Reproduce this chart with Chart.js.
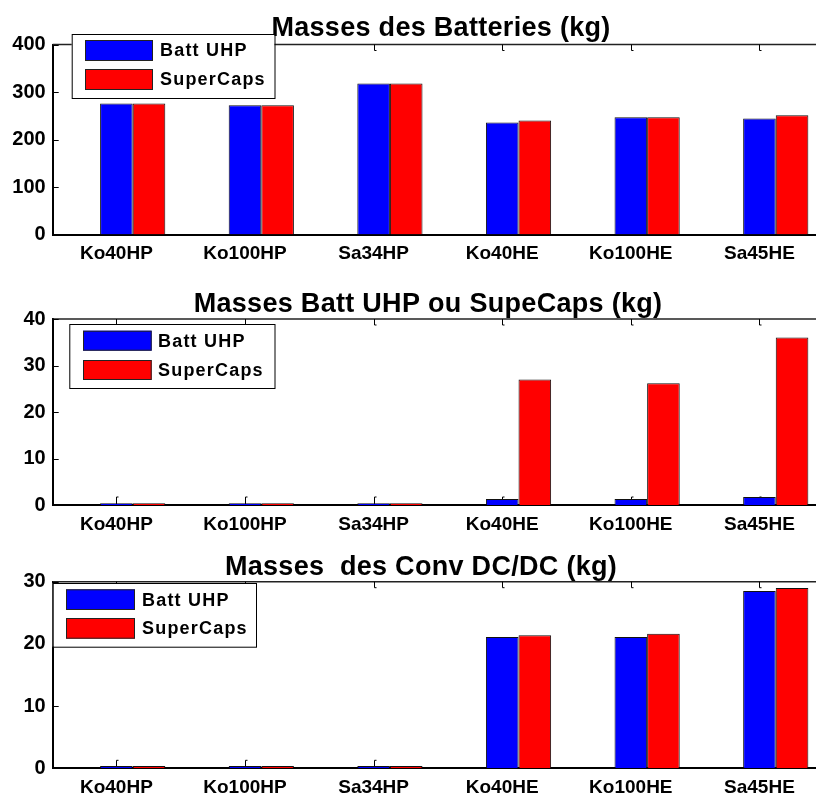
<!DOCTYPE html>
<html>
<head>
<meta charset="utf-8">
<script src="https://cdn.jsdelivr.net/npm/chart.js@4.4.1/dist/chart.umd.min.js"></script>
<style>
  html, body { margin: 0; padding: 0; background: #fff; overflow: hidden; }
  #fig { position: relative; width: 816px; height: 796px; }
  canvas { position: absolute; left: 0; }
</style>
</head>
<body>
<div id="fig">
  <canvas id="c1" width="816" height="270" style="top:0px"></canvas>
  <canvas id="c2" width="816" height="265" style="top:270px"></canvas>
  <canvas id="c3" width="816" height="261" style="top:535px"></canvas>
</div>
<script>
// ---- data ----
const categories = ['Ko40HP', 'Ko100HP', 'Sa34HP', 'Ko40HE', 'Ko100HE', 'Sa45HE'];
const seriesNames = ['Batt UHP', 'SuperCaps'];

// Masses des Batteries (kg)
const batteryUHP = [276, 272, 318, 236, 247, 244];
const batterySC  = [276, 272, 318, 240, 247, 251];

// Masses Batt UHP ou SupeCaps (kg)
const storageUHP = [0.4, 0.4, 0.4, 1.3, 1.3, 1.7];
const storageSC  = [0.4, 0.4, 0.4, 27.0, 26.2, 36.0];

// Masses des Conv DC/DC (kg)
const converterUHP = [0.35, 0.35, 0.35, 21.1, 21.1, 28.5];
const converterSC  = [0.35, 0.35, 0.35, 21.4, 21.65, 29.0];

const batteryTicks   = [0, 100, 200, 300, 400];
const storageTicks   = [0, 10, 20, 30, 40];
const converterTicks = [0, 10, 20, 30];

const titles = ['Masses des Batteries (kg)', 'Masses Batt UHP ou SupeCaps (kg)', 'Masses  des Conv DC/DC (kg)'];

// ---- styling / layout ----
const FONT = '"Liberation Sans", Arial, sans-serif';
const COLORS = ['#0000FF', '#FF0000'];
const GROUP_FRACTION = 0.507;            // share of a category slot taken by the bar pair
const TICK_SHIFT = GROUP_FRACTION / 4;   // ticks sit under the centre of the first bar
const X_MIN = 0.378, X_MAX = 6.313;
const AXIS_LEFT = 52.7;

const panels = [
  { id: 'c1', h: 270, top: 44.5, bottom: 234.5, series: [batteryUHP, batterySC], ticks: batteryTicks, title: titles[0],
    titleX: 441, titleY: 36,
    legend: { x: 71.7, y: 34, w: 202.8, h: 64, sx: 85, sw: 68, sh: 21, rows: [40, 69], tx: 160 } },
  { id: 'c2', h: 265, top: 49, bottom: 235, series: [storageUHP, storageSC], ticks: storageTicks, title: titles[1],
    titleX: 428, titleY: 42,
    legend: { x: 69.3, y: 54, w: 205.2, h: 64, sx: 83, sw: 68.7, sh: 20, rows: [60.7, 90], tx: 158 } },
  { id: 'c3', h: 261, top: 46.7, bottom: 233.3, series: [converterUHP, converterSC], ticks: converterTicks, title: titles[2],
    titleX: 421, titleY: 40,
    legend: { x: 52.7, y: 48, w: 203.3, h: 63.7, sx: 66, sw: 69, sh: 20.7, rows: [54.3, 83], tx: 142 } }
];

// Inward tick marks, box top line, title and framed legend
const framePlugin = {
  id: 'frame',
  beforeDatasetsDraw(chart, args, opts) {
    const { ctx, chartArea: a, scales: { x, y } } = chart;
    ctx.save();
    // top edge of the box
    ctx.beginPath();
    ctx.moveTo(a.left, a.top);
    ctx.lineTo(a.right, a.top);
    ctx.lineWidth = 1.5;
    ctx.strokeStyle = '#222';
    ctx.stroke();
    ctx.lineWidth = 1;
    ctx.strokeStyle = '#000';
    ctx.beginPath();
    x.ticks.forEach(t => {
      const px = Math.round(x.getPixelForValue(t.value)) + 0.5;
      ctx.moveTo(px, a.top); ctx.lineTo(px, a.top + 6); ctx.lineTo(px + 2, a.top + 6);
      ctx.moveTo(px, a.bottom); ctx.lineTo(px, a.bottom - 8); ctx.lineTo(px + 2, a.bottom - 8);
    });
    y.ticks.forEach(t => {
      const py = Math.round(y.getPixelForValue(t.value)) + 0.5;
      ctx.moveTo(a.left, py); ctx.lineTo(a.left + 6, py);
    });
    ctx.stroke();
    ctx.restore();
  },
  afterDraw(chart, args, opts) {
    const { ctx } = chart;
    ctx.save();
    // title
    ctx.fillStyle = '#000';
    ctx.font = 'bold 27px ' + FONT;
    ctx.textAlign = 'center';
    ctx.textBaseline = 'alphabetic';
    ctx.letterSpacing = '0.3px';
    ctx.fillText(opts.title, opts.titleX, opts.titleY);
    // legend
    const L = opts.legend;
    ctx.fillStyle = '#fff';
    ctx.fillRect(L.x, L.y, L.w, L.h);
    ctx.strokeStyle = '#000';
    ctx.lineWidth = 1;
    ctx.strokeRect(L.x + 0.5, L.y + 0.5, L.w, L.h);
    ctx.font = 'bold 18px ' + FONT;
    ctx.textAlign = 'left';
    ctx.textBaseline = 'middle';
    ctx.letterSpacing = '1.2px';
    chart.data.datasets.forEach((ds, i) => {
      const ry = L.rows[i];
      ctx.fillStyle = ds.backgroundColor;
      ctx.fillRect(L.sx, ry, L.sw, L.sh);
      ctx.strokeStyle = '#222';
      ctx.strokeRect(L.sx + 0.5, ry + 0.5, L.sw - 1, L.sh - 1);
      ctx.fillStyle = '#000';
      ctx.fillText(ds.label, L.tx, ry + L.sh / 2 + 1);
    });
    ctx.restore();
  }
};

panels.forEach(p => {
  const xFont = { family: FONT, size: 19, weight: 'bold' };
  const yFont = { family: FONT, size: 20, weight: 'bold' };
  new Chart(document.getElementById(p.id), {
    type: 'bar',
    data: {
      datasets: p.series.map((vals, i) => ({
        label: seriesNames[i],
        data: vals.map((v, k) => ({ x: k + 1, y: v })),
        backgroundColor: COLORS[i],
        borderColor: '#111',
        borderWidth: 1,
        categoryPercentage: GROUP_FRACTION,
        barPercentage: 1
      }))
    },
    options: {
      responsive: false,
      animation: false,
      devicePixelRatio: 1,
      layout: { padding: { top: p.top, left: 0, right: 0, bottom: 0 } },
      plugins: {
        legend: { display: false },
        tooltip: { enabled: false },
        title: { display: false },
        frame: { title: p.title, titleX: p.titleX, titleY: p.titleY, legend: p.legend }
      },
      scales: {
        x: {
          type: 'linear',
          min: X_MIN,
          max: X_MAX,
          offset: false,
          grid: { display: false, drawTicks: false },
          border: { display: true, color: '#000', width: 2 },
          afterBuildTicks: s => { s.ticks = categories.map((c, i) => ({ value: i + 1 - TICK_SHIFT })); },
          afterFit: s => { s.height = p.h - p.bottom; },
          ticks: {
            autoSkip: false,
            maxRotation: 0,
            padding: 8,
            color: '#000',
            font: xFont,
            callback: (v, i) => categories[i]
          }
        },
        y: {
          min: p.ticks[0],
          max: p.ticks[p.ticks.length - 1],
          grid: { display: false, drawTicks: false },
          border: { display: true, color: '#000', width: 2 },
          afterFit: s => { s.width = AXIS_LEFT; },
          ticks: {
            stepSize: p.ticks[1] - p.ticks[0],
            padding: 7,
            color: '#000',
            font: yFont
          }
        }
      }
    },
    plugins: [framePlugin]
  });
});
</script>
</body>
</html>
